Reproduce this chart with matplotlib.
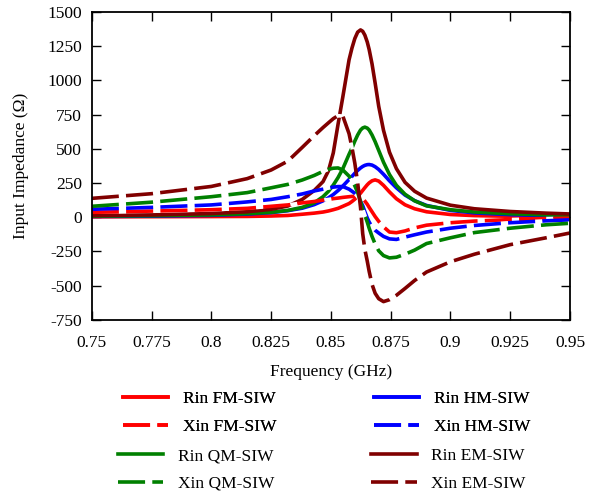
import matplotlib
matplotlib.use("Agg")
import matplotlib.pyplot as plt

plt.rcParams['font.family'] = ['Liberation Serif', 'DejaVu Serif']
plt.rcParams['axes.unicode_minus'] = False

# frequency points (GHz)
freq = [0.75, 0.775, 0.80, 0.815, 0.825, 0.832, 0.838, 0.843, 0.8467, 0.849,
        0.851, 0.853, 0.855, 0.8576, 0.8588, 0.86, 0.8612, 0.8624, 0.8633, 0.8642,
        0.8652, 0.866, 0.8672, 0.8685, 0.870, 0.872, 0.8745, 0.8774, 0.881, 0.885,
        0.89, 0.90, 0.91, 0.925, 0.94, 0.95]

# input resistance / reactance (ohm)
rin_fm = [3, 4, 5, 6, 9, 13, 22, 30, 38, 46,
          55, 65, 80, 100, 115, 132, 153, 176, 196, 216,
          237, 251, 266, 273, 264, 233, 185, 135, 91, 62,
          40, 20, 12, 7, 5, 4]
xin_fm = [36, 45, 55, 65, 80, 90, 105, 115, 125, 130,
          136, 140, 145, 150, 152, 153, 152, 145, 135, 118,
          95, 72, 40, 5, -30, -70, -108, -113, -100, -78,
          -58, -40, -28, -17, -10, -7]

rin_hm = [6, 8, 14, 23, 34, 48, 66, 92, 120, 142,
          166, 195, 228, 276, 298, 321, 342, 360, 371, 379,
          384, 385, 381, 369, 349, 314, 266, 215, 162, 121,
          86, 50, 32, 19, 12, 9]
xin_hm = [58, 72, 90, 112, 130, 150, 170, 192, 205, 213,
          220, 224, 224, 205, 190, 175, 150, 115, 85, 40,
          -5, -35, -70, -95, -115, -140, -158, -162, -145, -128,
          -108, -80, -60, -40, -26, -19]

rin_qm = [8, 11, 17, 26, 36, 50, 72, 105, 150, 190,
          235, 290, 355, 460, 505, 556, 601, 637, 652, 658,
          651, 637, 601, 552, 488, 402, 312, 233, 168, 120,
          83, 55, 38, 25, 17, 14]
xin_qm = [80, 110, 150, 180, 215, 240, 272, 305, 335, 350,
          358, 360, 345, 300, 268, 230, 180, 115, 60, 15,
          -35, -80, -140, -195, -245, -280, -297, -292, -270, -240,
          -192, -150, -112, -80, -55, -44]

rin_em = [12, 17, 27, 40, 58, 82, 130, 195, 260, 340,
          470, 680, 880, 1150, 1235, 1305, 1352, 1368, 1358, 1330,
          1280, 1225, 1120, 980, 810, 635, 475, 355, 255, 190,
          140, 88, 62, 42, 30, 24]
xin_em = [138, 172, 225, 282, 345, 410, 510, 595, 655, 690,
          720, 742, 738, 610, 510, 395, 250, 70, -120, -235,
          -320, -395, -490, -555, -595, -616, -602, -570, -520, -462,
          -400, -325, -270, -200, -150, -115]

xticks = [0.75, 0.775, 0.8, 0.825, 0.85, 0.875, 0.9, 0.925, 0.95]
xtick_labels = ['0.75', '0.775', '0.8', '0.825', '0.85', '0.875', '0.9', '0.925', '0.95']
yticks = [-750, -500, -250, 0, 250, 500, 750, 1000, 1250, 1500]

red, blue, green, maroon = '#ff0000', '#0000ff', '#008000', '#800000'
lw = 2.6
dash = (0, (7.5, 2.0))

fig = plt.figure(figsize=(6, 4.93), dpi=100)
ax = fig.add_axes([0.153, 0.351, 0.797, 0.625])

# solid lines first, dashed ones on top with white gaps
h_rfm, = ax.plot(freq, rin_fm, color=red, lw=lw)
h_rhm, = ax.plot(freq, rin_hm, color=blue, lw=lw)
h_rqm, = ax.plot(freq, rin_qm, color=green, lw=lw)
h_rem, = ax.plot(freq, rin_em, color=maroon, lw=lw)
h_xfm, = ax.plot(freq, xin_fm, color=red, lw=lw, ls=dash, gapcolor='white')
h_xhm, = ax.plot(freq, xin_hm, color=blue, lw=lw, ls=dash, gapcolor='white')
h_xqm, = ax.plot(freq, xin_qm, color=green, lw=lw, ls=dash, gapcolor='white')
h_xem, = ax.plot(freq, xin_em, color=maroon, lw=lw, ls=dash, gapcolor='white')

ax.set_xlim(0.75, 0.95)
ax.set_ylim(-750, 1500)
ax.set_xticks(xticks)
ax.set_xticklabels(xtick_labels)
ax.set_yticks(yticks)
ax.tick_params(direction='in', top=True, right=True, length=6.5, width=1.0,
               labelsize=12.5)
ax.tick_params(axis='x', pad=10.5)
ax.tick_params(axis='y', pad=7)
for s in ax.spines.values():
    s.set_linewidth(1.3)

ax.set_xlabel('Frequency (GHz)', fontsize=12.5, labelpad=10)
ax.set_ylabel('Input Impedance (\u03a9)', fontsize=12.5, labelpad=13)

leg_kw = dict(ncol=2, frameon=False, fontsize=12.5, handlelength=2.6,
              handletextpad=0.85, columnspacing=5.6, labelspacing=0.67,
              borderaxespad=0, borderpad=0, loc='upper left',
              bbox_transform=fig.transFigure)
leg1 = fig.legend([h_rfm, h_xfm, h_rhm, h_xhm],
                  ['Rin FM-SIW', 'Xin FM-SIW', 'Rin HM-SIW', 'Xin HM-SIW'],
                  bbox_to_anchor=(123 / 600, 1 - 391 / 493), **leg_kw)
leg2 = fig.legend([h_rqm, h_xqm, h_rem, h_xem],
                  ['Rin QM-SIW', 'Xin QM-SIW', 'Rin EM-SIW', 'Xin EM-SIW'],
                  bbox_to_anchor=(118 / 600, 1 - 448 / 493), **leg_kw)
fig.add_artist(leg1)

fig.savefig('out.png', dpi=100)
